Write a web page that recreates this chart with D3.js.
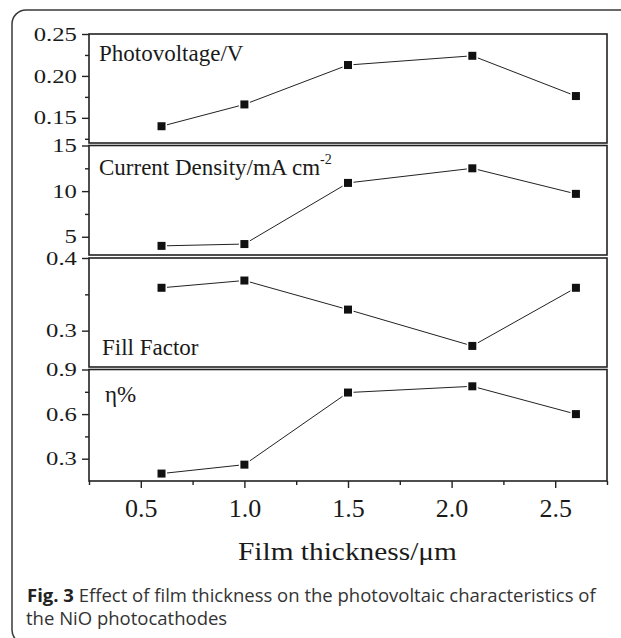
<!DOCTYPE html>
<html>
<head>
<meta charset="utf-8">
<script src="https://cdn.jsdelivr.net/npm/d3@7"></script>
<style>
body { margin: 0; background: #fff; }
.serif { font-family: 'Liberation Serif', 'Times New Roman', serif; fill: #1a1a1a; }
.caption { font-family: 'Open Sans', 'Noto Sans', sans-serif; fill: #333; }
</style>
</head>
<body>
<script>
// film thickness in um
var thickness = [0.6, 1.0, 1.5, 2.1, 2.6];

// measured values for each film
var photovoltage = [0.140, 0.166, 0.213, 0.224, 0.176];
var currentDensity = [4.0, 4.2, 10.9, 12.5, 9.7];
var fillFactor = [0.359, 0.369, 0.329, 0.279, 0.359];
var efficiency = [0.20, 0.26, 0.745, 0.787, 0.60];

// ticks
var xTicks = [0.5, 1.0, 1.5, 2.0, 2.5];
var xMinor = [0.25, 0.75, 1.25, 1.75, 2.25, 2.75];
var vocTicks = [0.15, 0.20, 0.25], vocMinor = [0.125, 0.175, 0.225];
var jscTicks = [5, 10, 15], jscMinor = [7.5, 12.5];
var ffTicks = [0.3, 0.4], ffMinor = [0.35];
var etaTicks = [0.3, 0.6, 0.9], etaMinor = [0.45, 0.75];

var width = 621, height = 638;
var left = 89, right = 607;
var stretch = 1.3; // y tick labels are drawn wide in the original

var svg = d3.select('body')
    .append('svg')
    .attr('width', width)
    .attr('height', height);

// rounded figure box
svg.append('rect')
    .attr('x', 12)
    .attr('y', 10)
    .attr('width', 650)
    .attr('height', 634)
    .attr('rx', 14)
    .style('fill', 'none')
    .style('stroke', '#3a3a3a')
    .style('stroke-width', 1.5);

var x = d3.scaleLinear()
    .domain([0.25, 2.75])
    .range([left, right]);

var panels = [
    {values: photovoltage, domain: [0.12, 0.25], top: 34, bottom: 143, ticks: vocTicks, minor: vocMinor, fmt: '.2f', label: 'Photovoltage/V', lx: 99, ly: 61},
    {values: currentDensity, domain: [3, 15], top: 145.5, bottom: 255, ticks: jscTicks, minor: jscMinor, fmt: 'd', label: 'Current Density/mA cm', sup: '-2', lx: 99, ly: 175},
    {values: fillFactor, domain: [0.25, 0.40], top: 258, bottom: 367, ticks: ffTicks, minor: ffMinor, fmt: '.1f', label: 'Fill Factor', lx: 102, ly: 355},
    {values: efficiency, domain: [0.15, 0.90], top: 369.5, bottom: 481, ticks: etaTicks, minor: etaMinor, fmt: '.1f', label: '\u03b7%', lx: 105, ly: 402}
];

panels.forEach(function(p) {
    var y = d3.scaleLinear()
        .domain(p.domain)
        .range([p.bottom, p.top]);

    var g = svg.append('g');

    // minor ticks
    g.append('g')
        .attr('transform', 'translate(' + left + ',0)')
        .call(d3.axisLeft(y).tickValues(p.minor).tickSize(4).tickFormat(''))
        .call(function(a) { a.select('.domain').remove(); })
        .selectAll('line').style('stroke', '#222').style('stroke-width', 1.4);

    // major ticks
    var ax = g.append('g')
        .attr('transform', 'translate(' + left + ',0)')
        .call(d3.axisLeft(y).tickValues(p.ticks).tickSize(7).tickPadding(2.3).tickFormat(d3.format(p.fmt)));
    ax.select('.domain').remove();
    ax.selectAll('line').style('stroke', '#222').style('stroke-width', 1.4);
    ax.selectAll('text')
        .attr('class', 'serif')
        .attr('transform', 'scale(' + stretch + ',1)')
        .style('font-size', '19px');

    var data = thickness.map(function(t, i) { return [t, p.values[i]]; });

    var line = d3.line()
        .x(function(d) { return x(d[0]); })
        .y(function(d) { return y(d[1]); });

    g.append('path')
        .datum(data)
        .attr('d', line)
        .style('fill', 'none')
        .style('stroke', '#222')
        .style('stroke-width', 1);

    var pts = g.selectAll('.pt')
        .data(data)
        .enter()
        .append('g')
        .attr('transform', function(d) { return 'translate(' + x(d[0]) + ',' + y(d[1]) + ')'; });
    pts.append('rect')
        .attr('x', -5.5).attr('y', -5.5).attr('width', 11).attr('height', 11)
        .style('fill', 'white');
    pts.append('rect')
        .attr('x', -4).attr('y', -4).attr('width', 8).attr('height', 8)
        .style('fill', '#111');

    // panel frame
    g.append('rect')
        .attr('x', left)
        .attr('y', p.top)
        .attr('width', right - left)
        .attr('height', p.bottom - p.top)
        .style('fill', 'none')
        .style('stroke', '#222')
        .style('stroke-width', 1.6);

    var lab = g.append('text')
        .attr('class', 'serif')
        .attr('x', p.lx)
        .attr('y', p.ly)
        .style('font-size', '23px')
        .text(p.label);
    if (p.sup) {
        lab.append('tspan')
            .attr('dy', -11)
            .style('font-size', '14px')
            .text(p.sup);
    }
});

// bottom x axis
var xa = svg.append('g')
    .attr('transform', 'translate(0,481)');
xa.append('g')
    .call(d3.axisBottom(x).tickValues(xMinor).tickSize(4).tickFormat(''))
    .call(function(a) { a.select('.domain').remove(); })
    .selectAll('line').style('stroke', '#222').style('stroke-width', 1.4);
var xm = xa.append('g')
    .call(d3.axisBottom(x).tickValues(xTicks).tickSize(7).tickPadding(10.5).tickFormat(d3.format('.1f')));
xm.select('.domain').remove();
xm.selectAll('line').style('stroke', '#222').style('stroke-width', 1.4);
xm.selectAll('text')
    .attr('class', 'serif')
    .style('font-size', '26px');

svg.append('text')
    .attr('class', 'serif')
    .attr('transform', 'translate(238,560) scale(1.13,1)')
    .style('font-size', '26px')
    .text('Film thickness/\u03bcm');

// caption
var cap = svg.append('text')
    .attr('class', 'caption')
    .attr('x', 27)
    .attr('y', 601.5)
    .style('font-size', '18.5px');
cap.append('tspan')
    .style('font-weight', 'bold')
    .style('fill', '#222')
    .text('Fig. 3');
cap.append('tspan')
    .text(' Effect of film thickness on the photovoltaic characteristics of');

svg.append('text')
    .attr('class', 'caption')
    .attr('x', 26)
    .attr('y', 625)
    .style('font-size', '18.5px')
    .text('the NiO photocathodes');
</script>
</body>
</html>
